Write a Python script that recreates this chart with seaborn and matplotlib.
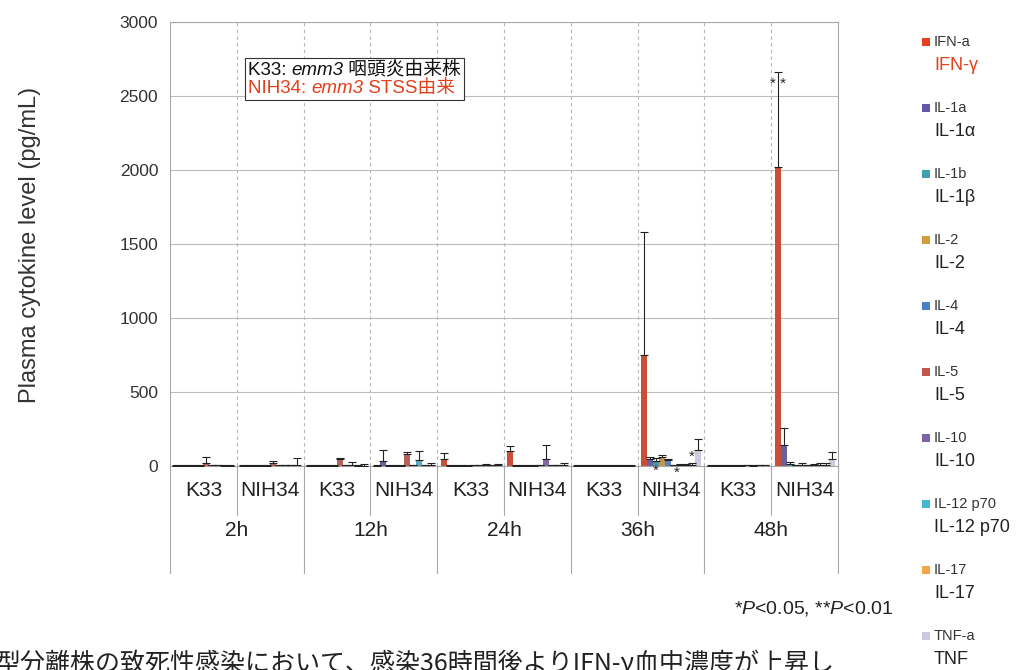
#!/usr/bin/env python3
"""Plasma cytokine levels after emm3 infection (K33 vs NIH34)."""

import matplotlib
matplotlib.use("Agg")
import matplotlib.pyplot as plt
import matplotlib.transforms as mtransforms
from matplotlib.offsetbox import AnchoredOffsetbox, HPacker, TextArea, VPacker
from matplotlib.patches import Rectangle
import numpy as np
import pandas as pd
import seaborn as sns

# Categories
STRAINS = ["K33", "NIH34"] * 5
TIMES = ["2h", "12h", "24h", "36h", "48h"]
SAMPLES = [f"{t} {s}" for t in TIMES for s in ["K33", "NIH34"]]

CYTOKINES = ["IFN-a", "IL-1a", "IL-1b", "IL-2", "IL-4",
             "IL-5", "IL-10", "IL-12 p70", "IL-17", "TNF-a"]
CYTOKINE_NAMES = ["IFN-γ", "IL-1α", "IL-1β", "IL-2", "IL-4",
                  "IL-5", "IL-10", "IL-12 p70", "IL-17", "TNF"]
COLORS = ["#E2401E", "#6656A6", "#3E9FB0", "#D49A3C", "#4A7EC6",
          "#C0584E", "#7E62A6", "#46B6D6", "#F6A445", "#C9C9E2"]

# Mean values (pg/mL), order: 2h K33, 2h NIH34, 12h K33, ..., 48h NIH34
IFN_A = [2, 2, 3, 3, 45, 100, 2, 750, 2, 2020]
IL_1A = [2, 2, 2, 35, 2, 3, 2, 45, 2, 140]
IL_1B = [2, 2, 2, 3, 2, 2, 2, 35, 2, 15]
IL_2 = [2, 2, 2, 2, 2, 2, 2, 60, 2, 5]
IL_4 = [2, 2, 2, 2, 2, 2, 2, 40, 2, 10]
IL_5 = [20, 20, 45, 80, 5, 5, 2, 5, 3, 5]
IL_10 = [5, 5, 5, 5, 5, 50, 2, 8, 5, 8]
IL_12 = [5, 5, 5, 40, 5, 5, 2, 8, 2, 8]
IL_17 = [3, 5, 3, 5, 5, 5, 2, 10, 5, 10]
TNF_A = [3, 5, 3, 10, 5, 5, 2, 110, 5, 45]

# Error bar (SD) values
IFN_A_SD = [2, 2, 3, 3, 45, 35, 2, 830, 2, 640]
IL_1A_SD = [2, 2, 2, 75, 2, 3, 2, 15, 2, 120]
IL_1B_SD = [2, 2, 2, 3, 2, 2, 2, 20, 2, 10]
IL_2_SD = [2, 2, 2, 2, 2, 2, 2, 15, 2, 5]
IL_4_SD = [2, 2, 2, 2, 2, 2, 2, 10, 2, 10]
IL_5_SD = [40, 15, 10, 15, 5, 5, 2, 5, 3, 5]
IL_10_SD = [5, 5, 5, 5, 5, 90, 2, 5, 5, 5]
IL_12_SD = [5, 5, 20, 60, 10, 5, 2, 8, 2, 15]
IL_17_SD = [3, 5, 5, 5, 5, 5, 2, 8, 5, 10]
TNF_A_SD = [3, 50, 10, 10, 10, 15, 2, 70, 5, 50]

MEANS = [IFN_A, IL_1A, IL_1B, IL_2, IL_4, IL_5, IL_10, IL_12, IL_17, TNF_A]
SDS = [IFN_A_SD, IL_1A_SD, IL_1B_SD, IL_2_SD, IL_4_SD,
       IL_5_SD, IL_10_SD, IL_12_SD, IL_17_SD, TNF_A_SD]

W, H = 1026, 670
GRAY = "#a8a8a8"
RED = "#E0401A"


def note_line(parts, color):
    areas = [TextArea(txt, textprops=dict(color=color, fontsize=13.5, style=st))
             for txt, st in parts]
    return HPacker(children=areas, pad=0, sep=0, align="baseline")


def main():
    sns.set_style("white")
    plt.rcParams["font.family"] = ["Liberation Sans", "Noto Sans CJK JP", "DejaVu Sans"]
    plt.rcParams["mathtext.fontset"] = "custom"
    plt.rcParams["mathtext.rm"] = "Liberation Sans"
    plt.rcParams["mathtext.it"] = "Liberation Sans:italic"

    rows = []
    for name, vals in zip(CYTOKINES, MEANS):
        for sample, v in zip(SAMPLES, vals):
            rows.append({"sample": sample, "cytokine": name, "level": v})
    df = pd.DataFrame(rows)

    fig = plt.figure(figsize=(W / 100, H / 100), dpi=100)
    ax = fig.add_axes([170 / W, 1 - 466 / H, (838 - 170) / W, (466 - 22) / H])

    sns.barplot(
        data=df, x="sample", y="level", hue="cytokine",
        order=SAMPLES, hue_order=CYTOKINES, palette=COLORS,
        width=0.9, errorbar=None, linewidth=0, legend=False, ax=ax,
    )

    # upward-only error bars
    centers = []
    for cont, sd in zip(ax.containers, SDS):
        xs = [p.get_x() + p.get_width() / 2 for p in cont.patches]
        ys = [p.get_height() for p in cont.patches]
        centers.append(xs)
        ax.errorbar(xs, ys, yerr=[np.zeros(len(sd)), sd], fmt="none",
                    ecolor="#222222", elinewidth=0.8, capsize=3, capthick=0.8, zorder=4)

    ax.set_ylim(0, 3000)
    ax.set_xlim(-0.5, 9.5)
    ax.set_yticks(range(0, 3001, 500))
    ax.yaxis.grid(True, color="#bdbdbd", lw=0.8)
    ax.set_axisbelow(True)
    ax.vlines(np.arange(0.5, 9, 1), 0, 3000, colors="#b5b5b5",
              linestyles=(0, (3, 3)), lw=0.8, zorder=0)
    for sp in ax.spines.values():
        sp.set_color(GRAY)
        sp.set_linewidth(0.8)

    ax.set_xlabel("")
    ax.set_ylabel("")
    ax.set_xticks(range(10))
    ax.set_xticklabels(STRAINS, fontsize=15, color="#222222")
    ax.tick_params(axis="x", length=0, pad=11)
    ax.tick_params(axis="y", length=5, color=GRAY, labelsize=12.5, labelcolor="#333333")

    # group labels + separators under the axis
    trans = mtransforms.blended_transform_factory(ax.transData, ax.transAxes)
    for g, t in enumerate(TIMES):
        ax.text(2 * g + 0.5, -0.145, t, transform=trans, ha="center", va="center",
                fontsize=15, color="#222222")
    for k in range(11):
        xb = k - 0.5
        y_end = -0.24 if k % 2 == 0 else -0.11
        ax.plot([xb, xb], [0, y_end], transform=trans, color=GRAY, lw=0.8, clip_on=False)

    # significance marks
    ax.text(centers[0][9], 2580, "* *", ha="center", va="center", fontsize=11)
    ax.text(centers[2][7], -35, "*", ha="center", va="center", fontsize=11, clip_on=False)
    ax.text((centers[5][7] + centers[6][7]) / 2, -45, "*", ha="center", va="center",
            fontsize=11, clip_on=False)
    ax.text(centers[8][7], 60, "*", ha="center", va="center", fontsize=11)

    # strain note box
    l1 = note_line([("K33: ", "normal"), ("emm3", "italic"), (" 咽頭炎由来株", "normal")],
                   "#111111")
    l2 = note_line([("NIH34: ", "normal"), ("emm3", "italic"), (" STSS由来", "normal")], RED)
    box = AnchoredOffsetbox(loc="upper left",
                            child=VPacker(children=[l1, l2], pad=0, sep=1, align="left"),
                            pad=0.2, borderpad=0, frameon=True,
                            bbox_to_anchor=(0.112, 0.919), bbox_transform=ax.transAxes)
    box.patch.set_edgecolor("#333333")
    box.patch.set_linewidth(0.8)
    box.set_zorder(6)
    ax.add_artist(box)

    fig.text(30 / W, 1 - 245 / H, "Plasma cytokine level (pg/mL)", rotation=90,
             ha="center", va="center", fontsize=17, color="#333333")

    # legend on the right
    for i, (code, name, col) in enumerate(zip(CYTOKINES, CYTOKINE_NAMES, COLORS)):
        y = 42 + 66 * i
        fig.patches.append(Rectangle((922 / W, 1 - (y + 4) / H), 8 / W, 8 / H,
                                     transform=fig.transFigure, facecolor=col,
                                     edgecolor="none"))
        fig.text(934 / W, 1 - y / H, code, fontsize=10.5, va="center", color="#333333")
        fig.text(934 / W, 1 - (y + 23) / H, name, fontsize=13, va="center",
                 color=RED if i == 0 else "#222222")

    fig.text(893 / W, 1 - 608 / H, "*$\\mathit{P}$<0.05, **$\\mathit{P}$<0.01",
             ha="right", va="center", fontsize=14, color="#222222")

    fig.text(-4 / W, 1 - 651 / H,
             "型分離株の致死性感染において、感染36時間後よりIFN-γ血中濃度が上昇し",
             family=["Noto Sans CJK JP", "DejaVu Sans"],
             ha="left", va="top", fontsize=18, color="#222222")

    fig.savefig("out.png", dpi=100, facecolor="white")
    plt.close(fig)


if __name__ == "__main__":
    main()
